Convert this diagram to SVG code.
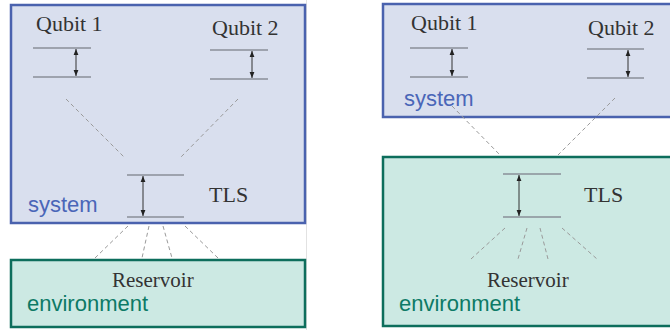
<svg xmlns="http://www.w3.org/2000/svg" width="670" height="330" viewBox="0 0 670 330">
<defs>
<marker id="ah" viewBox="0 0 10 10" refX="10" refY="5" markerWidth="6" markerHeight="6" orient="auto-start-reverse" markerUnits="userSpaceOnUse">
<path d="M0,1 L10,5 L0,9 z" fill="#222"/>
</marker>
<style>
.sys{fill:#d9dfee;stroke:#4a62ae;stroke-width:2.5}
.env{fill:#cce9e3;stroke:#0d6e5c;stroke-width:2.5}
.lvl{stroke:#8a8f99;stroke-width:1.5}
.arr{stroke:#333;stroke-width:1;marker-start:url(#ah);marker-end:url(#ah)}
.dash{stroke:#9a9a9a;stroke-width:1;stroke-dasharray:4 3;fill:none}
.cm{font-family:"Liberation Serif","DejaVu Serif",serif;fill:#333}
.lab{font-family:"Liberation Sans",Arial,sans-serif;font-size:22px}
.syst{fill:#4a66b8}
.envt{fill:#0d7a66}
</style>
</defs>
<rect width="670" height="330" fill="#fff"/>
<line x1="306.5" y1="0" x2="306.5" y2="330" stroke="#e2e2e2" stroke-width="1"/>

<!-- Left panel -->
<g id="left-system">
<rect class="sys" x="11" y="5" width="294" height="218"/>
<text class="lab syst" x="28" y="212">system</text>
</g>
<g id="left-environment">
<rect class="env" x="11" y="260" width="294" height="67"/>
<text class="cm" x="112" y="287" font-size="21">Reservoir</text>
<text class="lab envt" x="27" y="311">environment</text>
</g>
<g id="left-qubit1">
<text class="cm" x="36" y="31" font-size="22">Qubit 1</text>
<line class="lvl" x1="33" y1="48" x2="91" y2="48"/>
<line class="lvl" x1="33" y1="77" x2="91" y2="77"/>
<line class="arr" x1="76" y1="49" x2="76" y2="76"/>
</g>
<g id="left-qubit2">
<text class="cm" x="212" y="35" font-size="22">Qubit 2</text>
<line class="lvl" x1="210" y1="50" x2="268" y2="50"/>
<line class="lvl" x1="210" y1="79" x2="268" y2="79"/>
<line class="arr" x1="252" y1="51" x2="252" y2="78"/>
</g>
<g id="left-tls">
<line class="lvl" x1="127" y1="175" x2="184" y2="175"/>
<line class="lvl" x1="127" y1="217" x2="184" y2="217"/>
<line class="arr" x1="143" y1="176" x2="143" y2="216"/>
<text class="cm" x="209" y="202" font-size="22">TLS</text>
</g>

<!-- Right panel -->
<g id="right-system">
<rect class="sys" x="383" y="4" width="300" height="113"/>
<text class="lab syst" x="404" y="106">system</text>
</g>
<g id="right-environment">
<rect class="env" x="383" y="157" width="300" height="169"/>
<text class="cm" x="487" y="287" font-size="21">Reservoir</text>
<text class="lab envt" x="399" y="311">environment</text>
</g>
<g id="right-qubit1">
<text class="cm" x="411" y="30" font-size="22">Qubit 1</text>
<line class="lvl" x1="410" y1="48" x2="468" y2="48"/>
<line class="lvl" x1="410" y1="77" x2="468" y2="77"/>
<line class="arr" x1="452" y1="49" x2="452" y2="76"/>
</g>
<g id="right-qubit2">
<text class="cm" x="588" y="35" font-size="22">Qubit 2</text>
<line class="lvl" x1="587" y1="49" x2="644" y2="49"/>
<line class="lvl" x1="587" y1="78" x2="644" y2="78"/>
<line class="arr" x1="628" y1="50" x2="628" y2="77"/>
</g>
<g id="right-tls">
<line class="lvl" x1="503" y1="174" x2="561" y2="174"/>
<line class="lvl" x1="503" y1="217" x2="561" y2="217"/>
<line class="arr" x1="519" y1="175" x2="519" y2="216"/>
<text class="cm" x="584" y="202" font-size="22">TLS</text>
</g>

<g id="connectors">
<line class="dash" x1="66" y1="99" x2="124" y2="157"/>
<line class="dash" x1="238" y1="99" x2="181" y2="157"/>
<line class="dash" x1="128" y1="226" x2="95" y2="258"/>
<line class="dash" x1="149" y1="226" x2="142" y2="258"/>
<line class="dash" x1="163" y1="226" x2="172" y2="258"/>
<line class="dash" x1="185" y1="226" x2="218" y2="258"/>
<line class="dash" x1="452" y1="106" x2="500" y2="155"/>
<line class="dash" x1="615" y1="98" x2="558" y2="155"/>
<line class="dash" x1="505" y1="228" x2="471" y2="259"/>
<line class="dash" x1="527" y1="228" x2="518" y2="259"/>
<line class="dash" x1="540" y1="228" x2="548" y2="259"/>
<line class="dash" x1="562" y1="228" x2="597" y2="259"/>
</g>
</svg>
